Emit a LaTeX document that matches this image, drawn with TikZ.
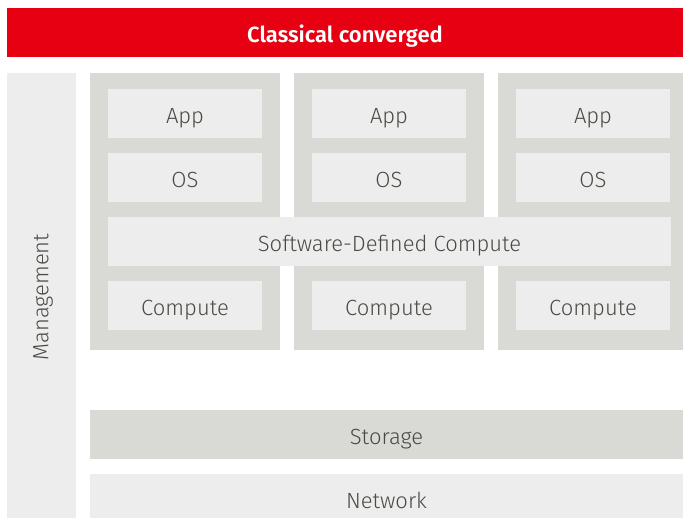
\documentclass[tikz,border=0pt]{standalone}
\usepackage{fontspec}
\setmainfont{Fira Sans}[UprightFont=* Light, BoldFont=* SemiBold]
\definecolor{fjred}{HTML}{E60012}
\definecolor{dgray}{HTML}{D9D9D5}
\definecolor{lgray}{HTML}{EDEDED}
\definecolor{txt}{HTML}{4A4A45}
\begin{document}
\begin{tikzpicture}[x=1pt,y=-1pt,
  base/.style={rectangle, inner sep=0pt, outer sep=0pt, text=txt, font=\fontsize{22}{26}\selectfont},
  tb/.style={text height=24.6pt, text depth=5pt},
  dbox/.style={base, fill=dgray},
  lbox/.style={base, tb, fill=lgray, minimum height=49pt},
  cell/.style={lbox, minimum width=154pt}]
\clip (0,0) rectangle (683,517);
\fill[white] (0,0) rectangle (683,517);
\node[base, tb, fill=fjred, minimum width=676pt, minimum height=49pt, text=white, font=\fontsize{22}{26}\selectfont\bfseries] (title) at (345,32.5) {Classical converged};
\node[base, fill=lgray, minimum width=69pt, minimum height=450pt] (mgmt) at (41.5,298) {};
\node[base, rotate=90] (mgmtlabel) at (43,297) {Management};
\node[dbox, minimum width=190pt, minimum height=277pt] (col1) at (185,211.5) {};
\node[dbox, minimum width=190pt, minimum height=277pt] (col2) at (389,211.5) {};
\node[dbox, minimum width=185pt, minimum height=277pt] (col3) at (590.5,211.5) {};
\node[cell] (app1) at (185,113.5) {App};
\node[cell] (app2) at (389,113.5) {App};
\node[cell] (app3) at (593,113.5) {App};
\node[cell] (os1) at (185,177.5) {OS};
\node[cell] (os2) at (389,177.5) {OS};
\node[cell] (os3) at (593,177.5) {OS};
\node[lbox, minimum width=563pt] (sdc) at (389.5,241.5) {Software-Defined Compute};
\node[cell] (comp1) at (185,305.5) {Compute};
\node[cell] (comp2) at (389,305.5) {Compute};
\node[cell] (comp3) at (593,305.5) {Compute};
\node[dbox, tb, minimum width=593pt, minimum height=49pt] (storage) at (386.5,434.5) {Storage};
\node[lbox, minimum width=593pt] (network) at (386.5,498.5) {Network};
\end{tikzpicture}
\end{document}
